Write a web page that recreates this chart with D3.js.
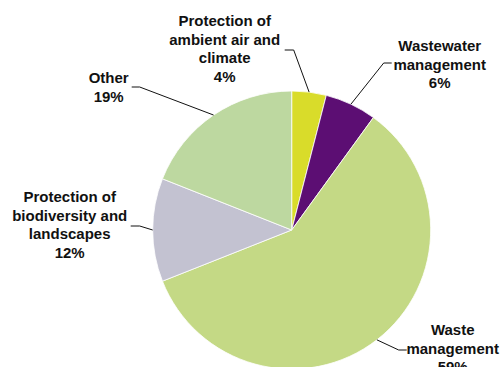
<!DOCTYPE html>
<html>
<head>
<meta charset="utf-8">
<script src="https://cdn.jsdelivr.net/npm/d3@7"></script>
<style>
  html, body { margin: 0; padding: 0; background: #fff; }
  svg { display: block; }
  .pie-label { font-family: "Liberation Sans", Arial, sans-serif; font-weight: bold; font-size: 15px; fill: #111; }
  .pie-leader { fill: none; stroke: #111; stroke-width: 1; }
</style>
</head>
<body>
<svg id="chart" width="504" height="367"></svg>
<script>
const categories = [
  "Protection of ambient air and climate",
  "Wastewater management",
  "Waste management",
  "Protection of biodiversity and landscapes",
  "Other",
];
const shares = [4, 6, 59, 12, 19];
const labelLines = [
  ["Protection of", "ambient air and", "climate"],
  ["Wastewater", "management"],
  ["Waste", "management"],
  ["Protection of", "biodiversity and", "landscapes"],
  ["Other"],
];
const colors = ["#d9dc2a", "#5c0e73", "#c4d985", "#c3c2d1", "#bdd8a0"];

// label placement, relative to the pie centre (elbow of leader, end of leader, text anchor)
const labelLayout = [
  { elbow: [2, -180], end: [-7, -180], text: [-67, -204] },
  { elbow: [92, -167], end: [100, -167], text: [148, -179] },
  { elbow: [107, 120], end: [115, 120], text: [161, 105] },
  { elbow: [-152, -4], end: [-161, -4], text: [-222, -28] },
  { elbow: [-152, -143], end: [-160, -143], text: [-183, -147] },
];

const cx = 291.7, cy = 230, radius = 139, lineHeight = 18.6;

const svg = d3.select("#chart");
const g = svg.append("g").attr("transform", `translate(${cx},${cy})`);

const slices = d3.pie().sort(null).value((d) => d.value)(
  categories.map((name, i) => ({ name, value: shares[i], index: i }))
);

const arc = d3.arc().innerRadius(0).outerRadius(radius);
const edgeArc = d3.arc().innerRadius(radius).outerRadius(radius);

g.selectAll(".slice")
  .data(slices)
  .join("path")
  .attr("class", "slice")
  .attr("d", arc)
  .attr("fill", (d) => colors[d.data.index])
  .attr("stroke", "#fff")
  .attr("stroke-width", 0.8);

g.selectAll(".pie-leader")
  .data(slices)
  .join("polyline")
  .attr("class", "pie-leader")
  .attr("points", (d) => {
    const layout = labelLayout[d.data.index];
    return [edgeArc.centroid(d), layout.elbow, layout.end].map((p) => p.join(",")).join(" ");
  });

const labels = g.selectAll(".pie-label")
  .data(slices)
  .join("text")
  .attr("class", "pie-label")
  .attr("text-anchor", "middle");

labels.each(function (d) {
  const layout = labelLayout[d.data.index];
  const lines = labelLines[d.data.index].concat([`${d.data.value}%`]);
  d3.select(this)
    .selectAll("tspan")
    .data(lines)
    .join("tspan")
    .attr("x", layout.text[0])
    .attr("y", (line, i) => layout.text[1] + i * lineHeight)
    .text((line) => line);
});
</script>
</body>
</html>
